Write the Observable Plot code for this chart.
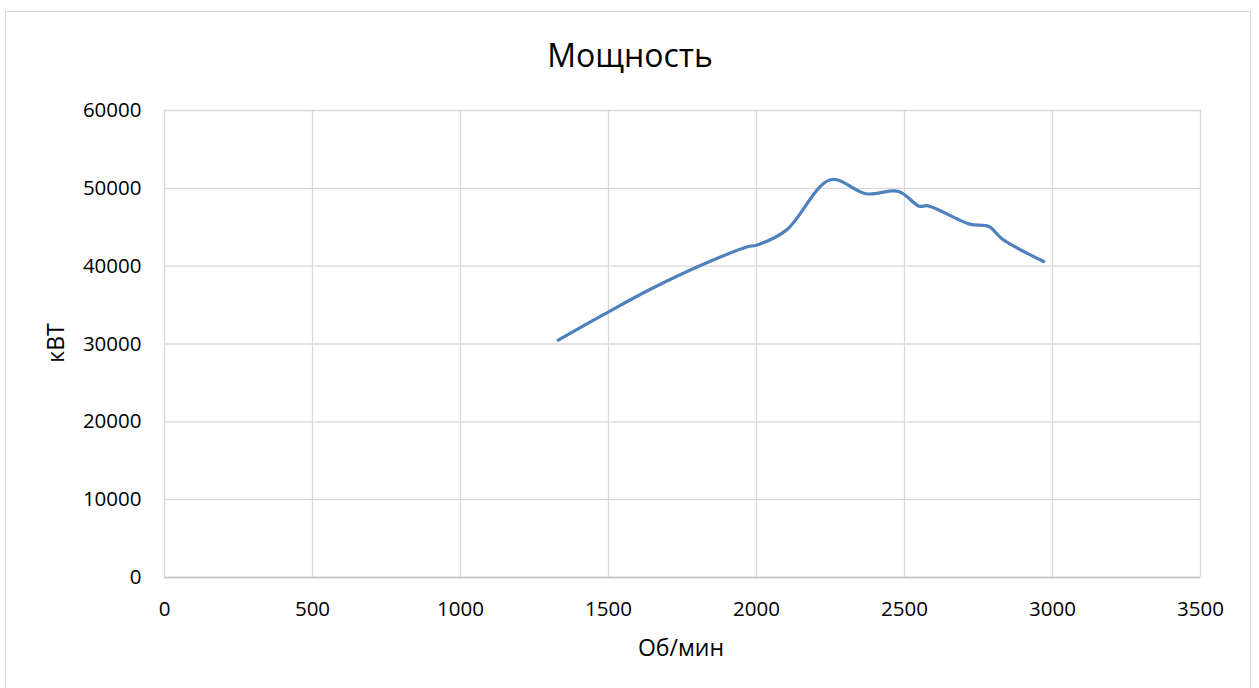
<!DOCTYPE html>
<html>
<head>
<meta charset="utf-8">
<script src="https://cdn.jsdelivr.net/npm/d3@7"></script>
<script src="https://cdn.jsdelivr.net/npm/@observablehq/plot@0.6"></script>
<style>
  html, body { margin: 0; padding: 0; background: #fff; overflow: hidden; }
  body { width: 1259px; height: 688px; position: relative; font-family: "Open Sans", sans-serif; }
  #frame { position: absolute; left: 5px; top: 11px; width: 1246px; height: 700px; border: 1px solid #d9d9d9; box-sizing: border-box; }
  #chart { position: absolute; left: 0; top: 0; }
  .lbl { position: absolute; color: #000; white-space: nowrap; font-family: "Open Sans", sans-serif; }
  #title { left: 0; width: 1260px; text-align: center; top: 33px; font-size: 32px; line-height: 44px; }
  #xlabel { left: 0; width: 1362px; text-align: center; top: 632px; font-size: 23px; line-height: 30px; }
  #ylabel { left: 55px; top: 343px; font-size: 23px; line-height: 30px; transform: translate(-50%, -50%) rotate(-90deg); }
</style>
</head>
<body>
<div id="frame"></div>
<div id="chart"></div>
<div id="title" class="lbl">Мощность</div>
<div id="xlabel" class="lbl">Об/мин</div>
<div id="ylabel" class="lbl">кВТ</div>
<script>
const rpm   = [1330, 1480, 1640, 1830, 1970, 2000, 2100, 2250, 2370, 2480, 2550, 2580, 2720, 2785, 2830, 2970];
const power = [30500, 33700, 37000, 40400, 42500, 42700, 44600, 51100, 49300, 49600, 47700, 47750, 45400, 45100, 43500, 40600];
const xTicks = [0, 500, 1000, 1500, 2000, 2500, 3000, 3500];
const yTicks = [0, 10000, 20000, 30000, 40000, 50000, 60000];

const data = rpm.map((r, i) => ({rpm: r, power: power[i]}));

const chart = Plot.plot({
  width: 1259,
  height: 688,
  marginLeft: 164,
  marginRight: 59,
  marginTop: 110,
  marginBottom: 111,
  style: {fontFamily: "Open Sans, sans-serif", fontSize: "20.5px", color: "#000", background: "transparent"},
  x: {domain: [0, 3500], ticks: xTicks},
  y: {domain: [0, 60000], ticks: yTicks},
  marks: [
    Plot.gridX(xTicks, {stroke: "#d9d9d9", strokeOpacity: 1, strokeWidth: 1.3}),
    Plot.gridY(yTicks, {stroke: "#d9d9d9", strokeOpacity: 1, strokeWidth: 1.3}),
    Plot.ruleY([0], {stroke: "#c4c4c4", strokeWidth: 1.5}),
    Plot.axisX(xTicks, {tickSize: 0, tickPadding: 24, label: null, tickFormat: d => String(d), fontSize: 20.5, fill: "#000"}),
    Plot.axisY(yTicks, {tickSize: 0, tickPadding: 23, label: null, tickFormat: d => String(d), fontSize: 20.5, fill: "#000"}),
    Plot.line(data, {x: "rpm", y: "power", curve: "catmull-rom", stroke: "#4f81bd", strokeWidth: 3.2, strokeLinecap: "round", strokeLinejoin: "round"})
  ]
});
document.getElementById("chart").appendChild(chart);
</script>
</body>
</html>
